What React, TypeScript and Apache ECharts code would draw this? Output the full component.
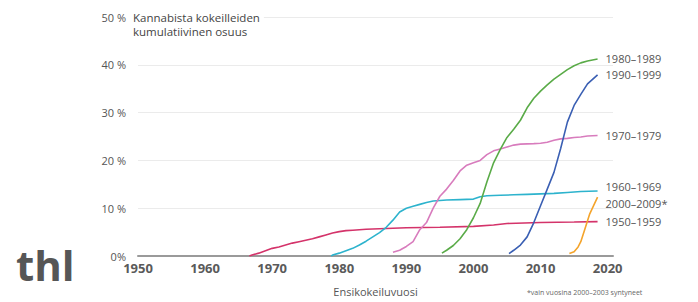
import React, { useEffect, useRef } from "react";
import * as echarts from "echarts";

const xTicks = [1950, 1960, 1970, 1980, 1990, 2000, 2010, 2020];
const yTicks = [0, 10, 20, 30, 40, 50];

const s1950 = [
  [1966.6, 0], [1967, 0.2], [1968, 0.6], [1969, 1.1], [1970, 1.6], [1971, 1.9], [1972, 2.3], [1973, 2.7],
  [1974, 3.0], [1975, 3.3], [1976, 3.6], [1977, 4.0], [1978, 4.4], [1979, 4.8], [1980, 5.1], [1981, 5.3],
  [1982, 5.4], [1983, 5.5], [1984, 5.6], [1986, 5.7], [1988, 5.8], [1990, 5.9], [1995, 6.0], [2000, 6.2],
  [2003, 6.5], [2005, 6.8], [2010, 7.0], [2015, 7.1], [2018.5, 7.2],
];
const s1960 = [
  [1978.8, 0], [1979, 0.2], [1980, 0.6], [1981, 1.1], [1982, 1.6], [1983, 2.3], [1984, 3.1], [1985, 4.0],
  [1986, 4.9], [1987, 6.0], [1988, 7.5], [1989, 9.2], [1990, 10.0], [1991, 10.4], [1992, 10.8], [1993, 11.2],
  [1994, 11.5], [1996, 11.7], [1998, 11.8], [2000, 11.9], [2001, 12.4], [2002, 12.6], [2004, 12.7],
  [2006, 12.8], [2008, 12.9], [2010, 13.0], [2012, 13.1], [2014, 13.3], [2016, 13.5], [2018.5, 13.6],
];
const s1970 = [
  [1988, 0.8], [1989, 1.2], [1990, 2.0], [1991, 3.0], [1992, 5.5], [1993, 7.0], [1994, 10.0], [1995, 12.5],
  [1996, 14.0], [1997, 15.8], [1998, 17.8], [1999, 19.0], [2000, 19.5], [2001, 20.0], [2002, 21.2],
  [2003, 22.0], [2004, 22.4], [2005, 22.8], [2006, 23.2], [2007, 23.4], [2009, 23.5], [2010, 23.6],
  [2011, 23.8], [2012, 24.2], [2013, 24.5], [2014, 24.6], [2015, 24.8], [2016, 24.9], [2017, 25.1], [2018.5, 25.2],
];
const s1980 = [
  [1995.3, 0.6], [1996, 1.2], [1997, 2.2], [1998, 3.6], [1999, 5.5], [2000, 8.0], [2001, 11.0], [2002, 15.5],
  [2003, 19.5], [2004, 22.3], [2005, 24.8], [2006, 26.5], [2007, 28.4], [2008, 31.0], [2009, 33.0],
  [2010, 34.5], [2011, 35.8], [2012, 37.0], [2013, 38.0], [2014, 39.0], [2015, 39.8], [2016, 40.4],
  [2017, 40.8], [2018.5, 41.2],
];
const s1990 = [
  [2005.3, 0.5], [2006, 1.2], [2007, 2.3], [2008, 4.0], [2009, 7.0], [2010, 10.5], [2011, 14.0],
  [2012, 17.5], [2013, 22.5], [2014, 28.0], [2015, 31.5], [2016, 33.8], [2017, 36.0], [2018.5, 37.9],
];
const s2000 = [
  [2014.3, 0.5], [2015, 0.9], [2015.6, 1.9], [2016, 3.0], [2016.6, 5.6], [2017.3, 8.7], [2018.5, 12.3],
];

const seriesNames = ["1950–1959", "1960–1969", "1970–1979", "1980–1989", "1990–1999", "2000–2009*"];
const seriesData = [s1950, s1960, s1970, s1980, s1990, s2000];
const colors = ["#d4336a", "#2db3cd", "#d87cbd", "#5aab48", "#3a5fb3", "#f4a42c"];
const labelOffsets = [[0, 0], [0, -4], [0, 0], [0, -1], [0, 0], [0, 6]];

const FONT = "Open Sans";

export default function App() {
  const ref = useRef<HTMLDivElement>(null);
  useEffect(() => {
    const chart = echarts.init(ref.current!, null, { renderer: "svg" });
    chart.setOption({
      animation: false,
      backgroundColor: "#ffffff",
      textStyle: { fontFamily: FONT },
      title: {
        text: "Kannabista kokeilleiden\nkumulatiivinen osuus",
        left: 130,
        top: 8,
        padding: [2, 4, 2, 3],
        backgroundColor: "#ffffff",
        textStyle: { fontFamily: FONT, fontSize: 11.5, fontWeight: "normal", color: "#444", lineHeight: 14 },
      },
      grid: { left: 138, right: 85, top: 17, bottom: 45 },
      xAxis: {
        type: "value",
        min: 1950,
        max: 2020.8,
        name: "Ensikokeiluvuosi",
        nameLocation: "middle",
        nameGap: 30,
        nameTextStyle: { fontFamily: FONT, fontSize: 11, color: "#555" },
        axisLine: { show: true, lineStyle: { color: "#9a9a9a", width: 2 } },
        axisTick: { show: false },
        splitLine: { show: false },
        axisLabel: {
          fontFamily: FONT,
          fontSize: 13,
          fontWeight: "bold",
          color: "#5a5a5a",
          margin: 5,
          customValues: xTicks,
          formatter: (v: number) => String(v),
        },
      },
      yAxis: {
        type: "value",
        min: 0,
        max: 50,
        interval: 10,
        axisLine: { show: false },
        axisTick: { show: false },
        splitLine: { lineStyle: { color: "#ebebeb", width: 1 } },
        axisLabel: {
          fontFamily: FONT,
          fontSize: 11,
          color: "#555",
          margin: 12,
          formatter: (v: number) => (yTicks.includes(v) ? (v === 0 ? "0%" : `${v} %`) : ""),
        },
      },
      series: seriesData.map((d, i) => ({
        type: "line",
        name: seriesNames[i],
        data: d,
        showSymbol: false,
        symbol: "none",
        lineStyle: { color: colors[i], width: 1.6 },
        z: 3,
        endLabel: {
          show: true,
          formatter: seriesNames[i],
          fontFamily: FONT,
          fontSize: 11,
          color: "#555",
          distance: 8,
          offset: labelOffsets[i],
        },
      })),
      graphic: [
        {
          type: "text",
          left: 16,
          top: 243,
          style: { text: "thl", font: `bold 42px ${FONT}`, fill: "#565656" },
        },
        {
          type: "text",
          left: 527,
          top: 289,
          style: { text: "*vain vuosina 2000–2003 syntyneet", font: `7px ${FONT}`, fill: "#666" },
        },
      ],
    });
    return () => chart.dispose();
  }, []);
  return <div ref={ref} style={{ width: 698, height: 302, position: "absolute", left: 0, top: 0 }} />;
}
